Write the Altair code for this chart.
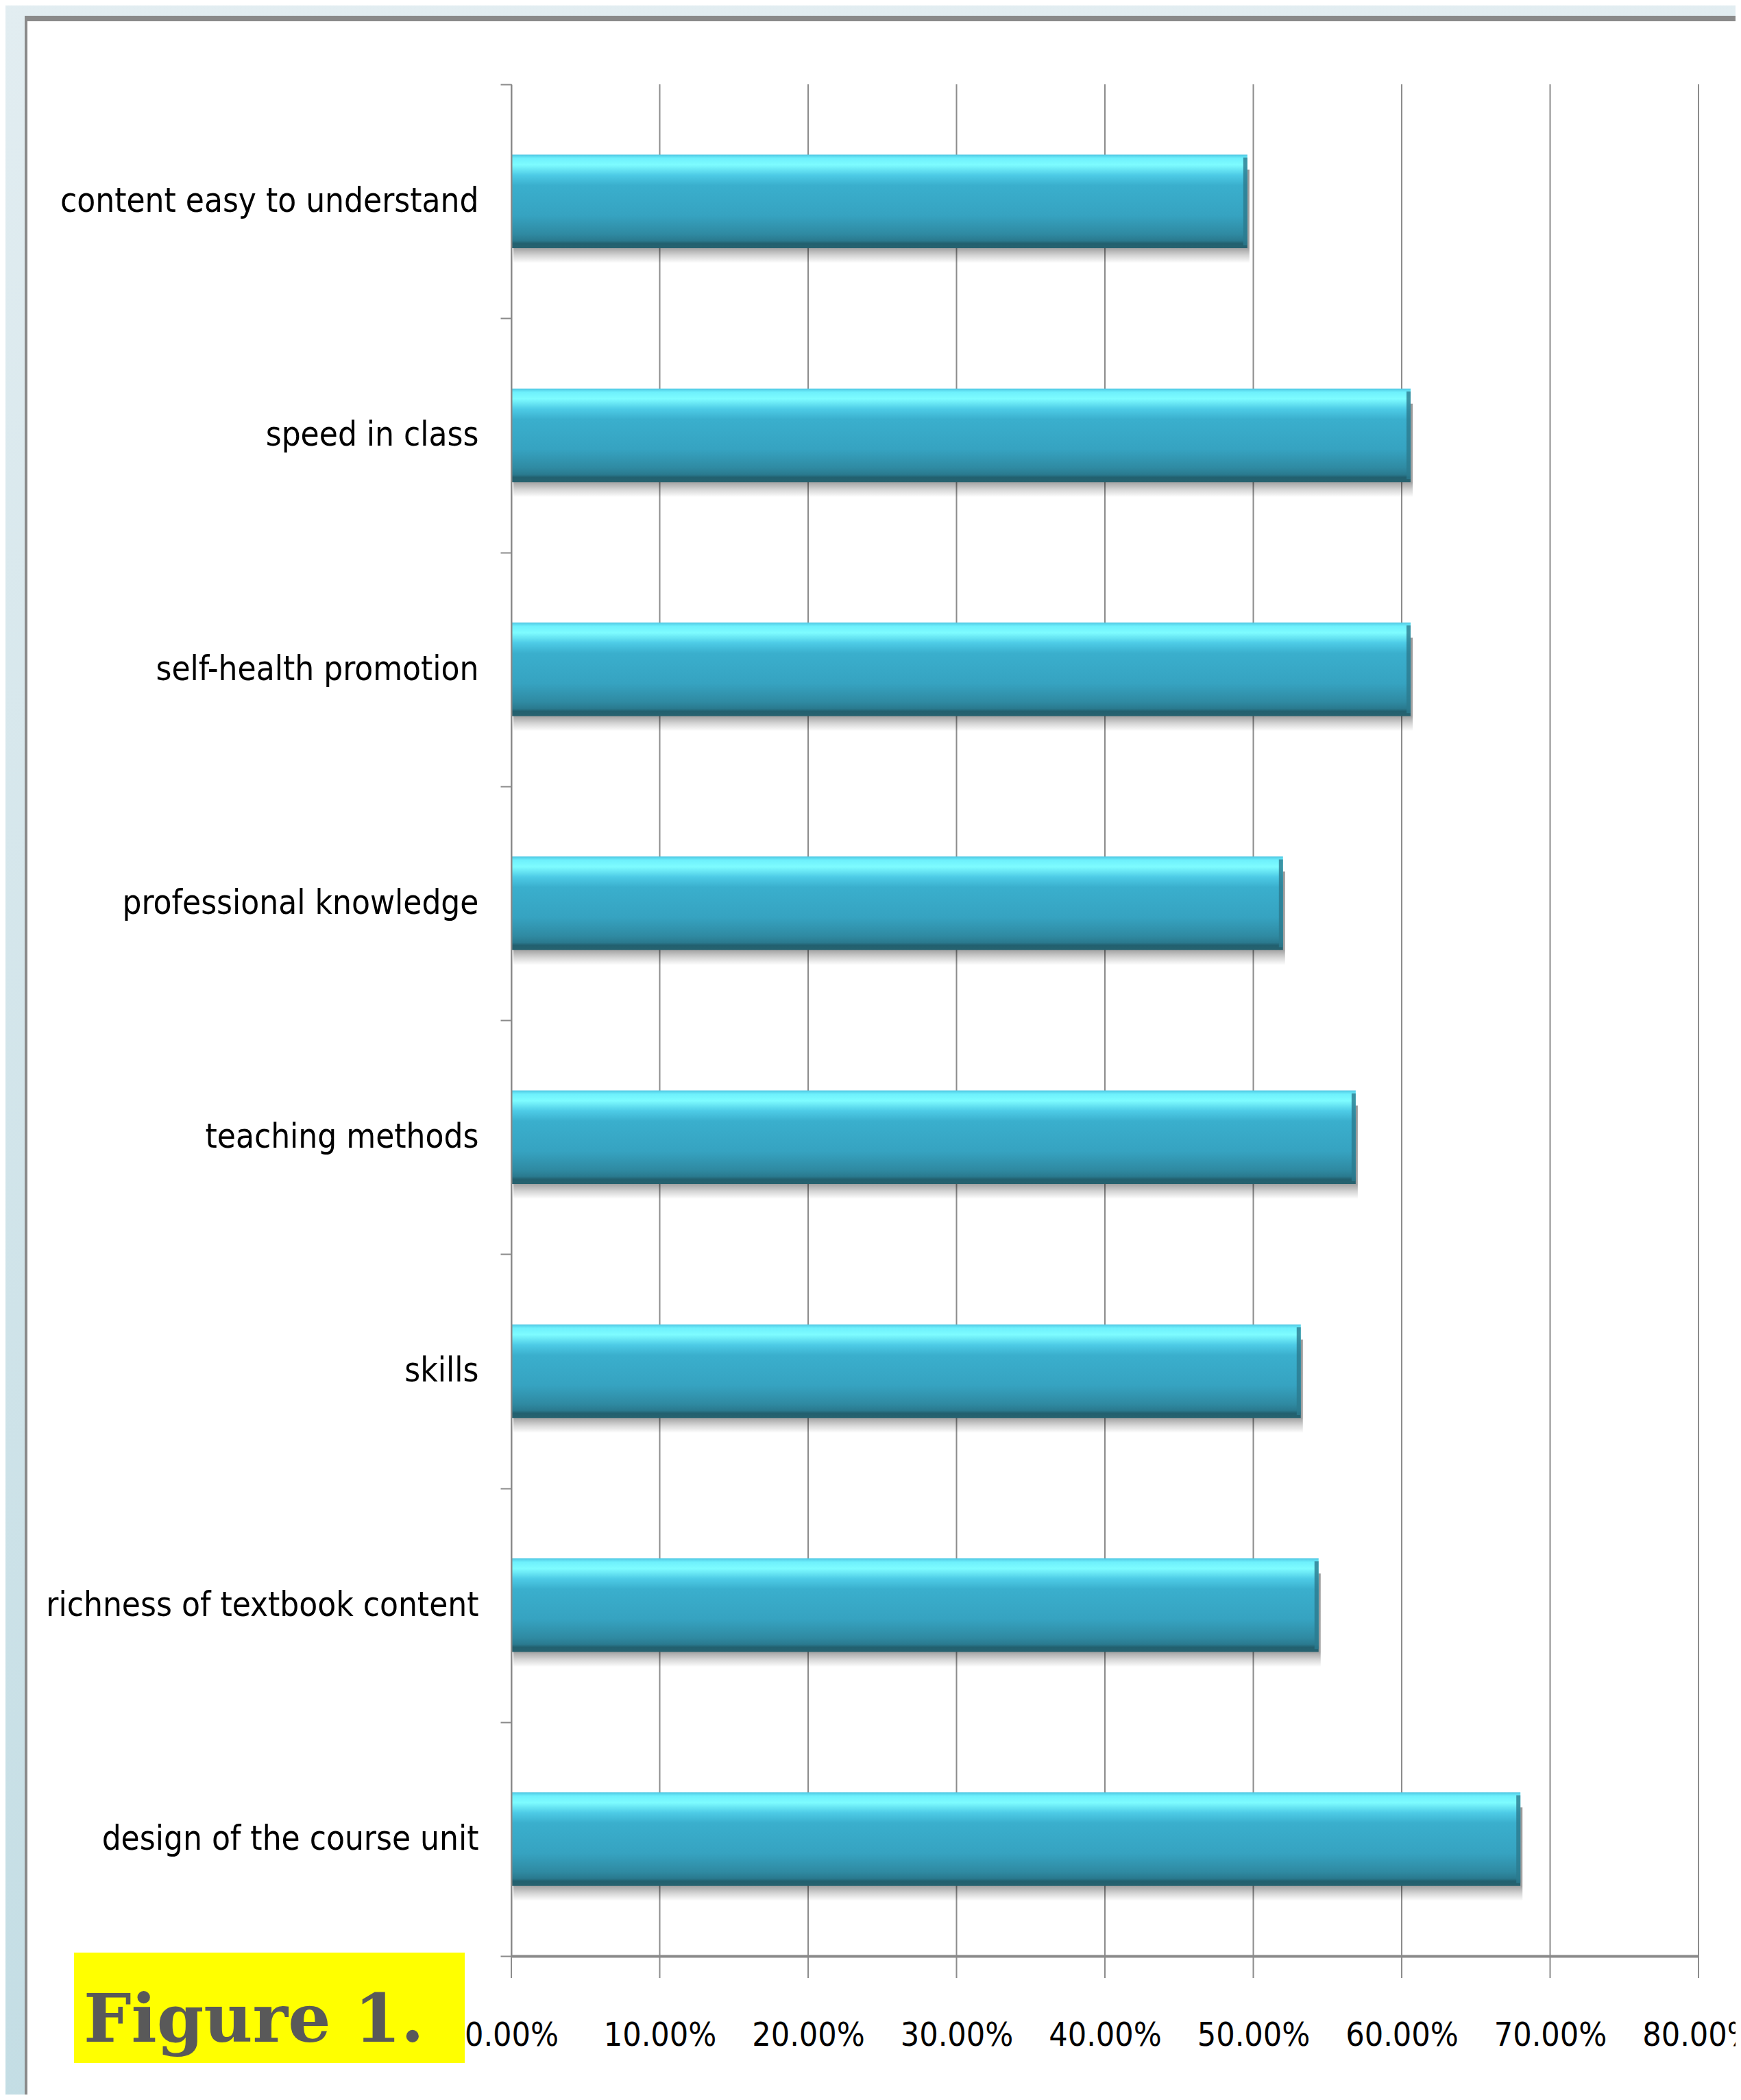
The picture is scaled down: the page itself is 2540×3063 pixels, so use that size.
import altair as alt
import pandas as pd

# ---- data ----
categories = [
    "content easy to understand",
    "speed in class",
    "self-health promotion",
    "professional knowledge",
    "teaching methods",
    "skills",
    "richness of textbook content",
    "design of the course unit",
]
values = [0.496, 0.606, 0.606, 0.520, 0.569, 0.532, 0.544, 0.680]
tick_values = [0.0, 0.1, 0.2, 0.3, 0.4, 0.5, 0.6, 0.7, 0.8]
caption = ["Figure 1."]

W, H = 1732, 2730
FONT = "Liberation Sans Narrow, DejaVu Sans Condensed, sans-serif"

df = pd.DataFrame({"item": categories, "share": values})
ticks_df = pd.DataFrame({"t": tick_values})
one = pd.DataFrame({"label": caption})

xscale = alt.Scale(domain=[0, 0.8], nice=False, zero=True)
yscale = alt.Scale(domain=categories, paddingInner=0, paddingOuter=0)


def grad(stops):
    return {
        "gradient": "linear",
        "x1": 0, "x2": 0, "y1": 0, "y2": 1,
        "stops": [{"offset": o, "color": c} for o, c in stops],
    }


bg_grad = grad([(0, "#e2edf1"), (1, "#c3dde4")])
bar_grad = grad([
    (0.0, "#4fc6e2"),
    (0.04, "#6ef0fc"),
    (0.11, "#7efcff"),
    (0.22, "#4dcbe6"),
    (0.33, "#3aafcd"),
    (0.65, "#36a3c1"),
    (0.85, "#2f8aa2"),
    (0.92, "#2a7a8f"),
    (0.95, "#22606f"),
    (1.0, "#27626f"),
])
shadow_grad = grad([
    (0, "rgba(0,0,0,0.4)"),
    (0.84, "rgba(0,0,0,0.36)"),
    (0.92, "rgba(0,0,0,0.16)"),
    (1, "rgba(0,0,0,0)"),
])
BAR = {"band": 0.4}

background = alt.Chart(one).mark_rect(color=bg_grad).encode(
    x=alt.value(-760), x2=alt.value(1900), y=alt.value(-130), y2=alt.value(3000)
)
frame = alt.Chart(one).mark_rect(color="#8a8a8a").encode(
    x=alt.value(-710), x2=alt.value(1900), y=alt.value(-100), y2=alt.value(3000)
)
panel = alt.Chart(one).mark_rect(color="#ffffff").encode(
    x=alt.value(-706), x2=alt.value(1900), y=alt.value(-92), y2=alt.value(3000)
)

grid = alt.Chart(ticks_df).mark_rule(color="#8c8c8c", strokeWidth=2).encode(
    x=alt.X("t:Q", scale=xscale, title=None),
    y=alt.value(0),
    y2=alt.value(H + 32),
)

shadow = alt.Chart(df).mark_bar(color=shadow_grad, height=BAR, yOffset=22, xOffset=3).encode(
    x=alt.X("share:Q", scale=xscale, title=None),
    y=alt.Y("item:N", scale=yscale, title=None),
)

bars = alt.Chart(df).mark_bar(color=bar_grad, height=BAR).encode(
    x=alt.X(
        "share:Q",
        scale=xscale,
        title=None,
        axis=alt.Axis(
            values=tick_values,
            format=".2%",
            labelFont=FONT,
            labelFontSize=48,
            labelColor="#000000",
            labelBaseline="middle",
            labelPadding=116,
            labelLimit=600,
            labelFlush=False,
            labelOverlap=False,
            domainColor="#8a8a8a",
            domainWidth=4,
            ticks=False,
            grid=False,
            zindex=1,
        ),
    ),
    y=alt.Y(
        "item:N",
        scale=yscale,
        title=None,
        axis=alt.Axis(
            labelFont=FONT,
            labelFontSize=49,
            labelColor="#000000",
            labelLimit=1200,
            labelPadding=32,
            domainColor="#8a8a8a",
            domainWidth=2,
            tickColor="#8a8a8a",
            tickWidth=2,
            tickSize=16,
            tickBand="extent",
            grid=False,
            zindex=1,
        ),
    ),
)

bevel = alt.Chart(df).mark_tick(color="#2c7a8e", thickness=6, size=128, xOffset=-3, opacity=0.8).encode(
    x=alt.X("share:Q", scale=xscale, title=None),
    y=alt.Y("item:N", scale=yscale, title=None),
)

cap_box = alt.Chart(one).mark_rect(color="#ffff00").encode(
    x=alt.value(-638), x2=alt.value(-68), y=alt.value(2725), y2=alt.value(2886)
)
cap_text = alt.Chart(one).mark_text(
    font="DejaVu Serif", fontSize=98, fontWeight="bold", color="#595959",
    align="left", baseline="alphabetic"
).encode(
    text="label:N", x=alt.value(-624), y=alt.value(2855)
)

chart = alt.layer(
    background, frame, panel, grid, shadow, bars, bevel, cap_box, cap_text
).properties(
    width=W,
    height=H,
    autosize=alt.AutoSizeParams(type="none"),
    padding={"left": 738, "top": 115, "right": 54, "bottom": 202},
).configure(background="#d6e7ec").configure_view(strokeWidth=0)

chart.save("out.html", embed_options={"renderer": "svg", "actions": False})
